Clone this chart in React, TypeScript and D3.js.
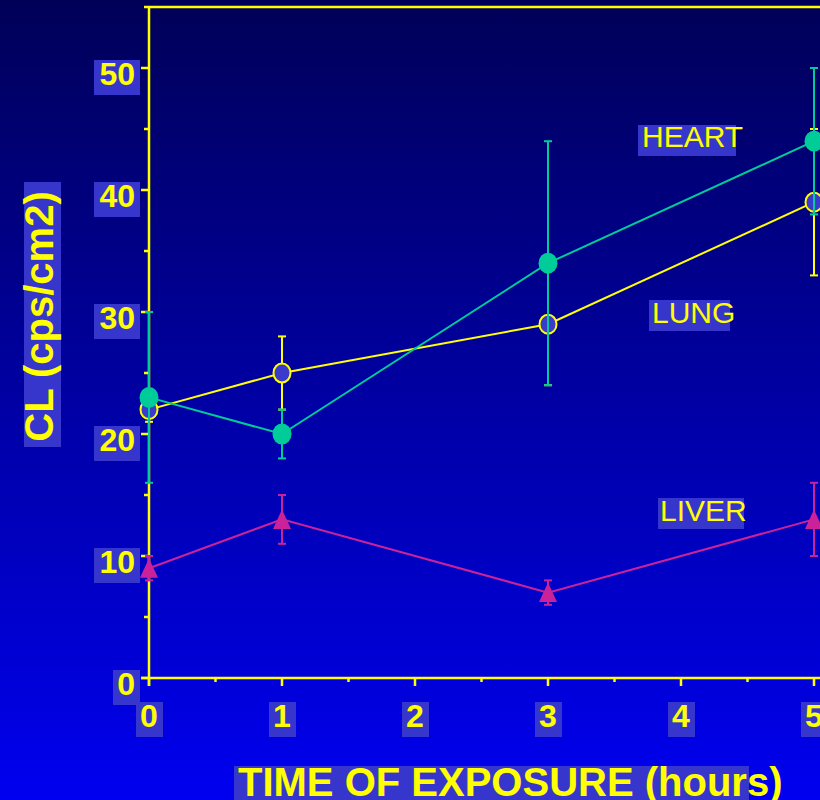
import React from "react";
import * as d3 from "d3";

const hours = [0, 1, 3, 5];
const heart = [23, 20, 34, 44];
const heartErr = [7, 2, 10, 6];
const lung = [22, 25, 29, 39];
const lungErr = [1, 3, 5, 6];
const liver = [9, 13, 7, 13];
const liverErr = [1, 2, 1, 3];
const yTicks = [0, 10, 20, 30, 40, 50];
const yMinor = [5, 15, 25, 35, 45, 55];
const xTicks = [0, 1, 2, 3, 4, 5];
const xMinor = [0.5, 1.5, 2.5, 3.5, 4.5];

const YEL = "#ffff00";
const TEAL = "#00cc99";
const MAG = "#cc2299";
const BOX = "#3636cc";
const FONT = "'Liberation Sans', Arial, sans-serif";

export default function App() {
  const W = 820, H = 800;
  const x = d3.scaleLinear().domain([0, 5]).range([149, 814]);
  const y = d3.scaleLinear().domain([0, 55]).range([678, 7]);
  const line = d3.line<number>().x((_, i) => x(hours[i])).y((d) => y(d));

  const errBars = (vals: number[], errs: number[], color: string) =>
    vals.map((v, i) => {
      const cx = x(hours[i]);
      const y1 = y(v + errs[i]);
      const y2 = y(v - errs[i]);
      return (
        <g key={i} stroke={color} strokeWidth={2}>
          <line x1={cx} x2={cx} y1={y1} y2={y2} />
          <line x1={cx - 4} x2={cx + 4} y1={y1} y2={y1} />
          <line x1={cx - 4} x2={cx + 4} y1={y2} y2={y2} />
        </g>
      );
    });

  return (
    <svg width={W} height={H} style={{ position: "absolute", left: 0, top: 0 }} fontFamily={FONT}>
      <defs>
        <linearGradient id="bg" x1="0" y1="0" x2="0" y2="1">
          <stop offset="0" stopColor="#000058" />
          <stop offset="1" stopColor="#0000f0" />
        </linearGradient>
      </defs>
      <rect x={0} y={0} width={W} height={H} fill="url(#bg)" />

      {/* axes */}
      <g stroke={YEL} strokeWidth={2.5}>
        <line x1={x(0)} x2={x(0)} y1={y(55)} y2={y(0) + 8} />
        <line x1={x(0) - 8} x2={W} y1={y(0)} y2={y(0)} />
        <line x1={x(0)} x2={W} y1={y(55)} y2={y(55)} />
        {yTicks.map((t) => (
          <line key={"yt" + t} x1={x(0) - 8} x2={x(0)} y1={y(t)} y2={y(t)} />
        ))}
        {yMinor.map((t) => (
          <line key={"ym" + t} x1={x(0) - 5} x2={x(0)} y1={y(t)} y2={y(t)} />
        ))}
        {xTicks.map((t) => (
          <line key={"xt" + t} x1={x(t)} x2={x(t)} y1={y(0)} y2={y(0) + 8} />
        ))}
        {xMinor.map((t) => (
          <line key={"xm" + t} x1={x(t)} x2={x(t)} y1={y(0)} y2={y(0) + 4} />
        ))}
      </g>

      {/* y tick labels */}
      {yTicks.map((t) => {
        const s = String(t);
        const w = 8 + 19 * s.length;
        return (
          <g key={"yl" + t}>
            <rect x={140 - w} y={y(t) - 8} width={w} height={35} fill={BOX} />
            <text x={135} y={y(t) + 17} fill={YEL} fontSize={32} fontWeight="bold" textAnchor="end">
              {s}
            </text>
          </g>
        );
      })}

      {/* x tick labels */}
      {xTicks.map((t) => (
        <g key={"xl" + t}>
          <rect x={x(t) - 13} y={702} width={27} height={35} fill={BOX} />
          <text x={x(t)} y={727} fill={YEL} fontSize={32} fontWeight="bold" textAnchor="middle">
            {t}
          </text>
        </g>
      ))}

      {/* axis titles */}
      <rect x={234} y={766} width={515} height={40} fill={BOX} />
      <text x={238} y={796} fill={YEL} fontSize={40} fontWeight="bold">
        TIME OF EXPOSURE (hours)
      </text>
      <rect x={24} y={182} width={37} height={265} fill={BOX} />
      <text transform="translate(53,316.5) rotate(-90)" fill={YEL} fontSize={40} fontWeight="bold" textAnchor="middle">
        CL (cps/cm2)
      </text>

      {/* series labels */}
      <rect x={638} y={125} width={98} height={31} fill={BOX} />
      <text x={642} y={146.5} fill={YEL} fontSize={30}>HEART</text>
      <rect x={649} y={300} width={81} height={31} fill={BOX} />
      <text x={652} y={322.5} fill={YEL} fontSize={30}>LUNG</text>
      <rect x={658} y={498} width={86} height={31} fill={BOX} />
      <text x={660} y={521} fill={YEL} fontSize={30}>LIVER</text>

      {/* LIVER */}
      <path d={line(liver) || ""} fill="none" stroke={MAG} strokeWidth={2} />
      {errBars(liver, liverErr, MAG)}
      {liver.map((v, i) => {
        const cx = x(hours[i]);
        const cy = y(v);
        return (
          <path key={"tri" + i} d={`M${cx},${cy - 10}L${cx - 9},${cy + 9.5}L${cx + 9},${cy + 9.5}Z`} fill={MAG} />
        );
      })}

      {/* LUNG */}
      <path d={line(lung) || ""} fill="none" stroke={YEL} strokeWidth={2} />
      {errBars(lung, lungErr, YEL)}
      {lung.map((v, i) => (
        <ellipse key={"lc" + i} cx={x(hours[i])} cy={y(v)} rx={8.5} ry={9.5} fill="#3a3acc" stroke={YEL} strokeWidth={2} />
      ))}

      {/* HEART */}
      <path d={line(heart) || ""} fill="none" stroke={TEAL} strokeWidth={2} />
      {errBars(heart, heartErr, TEAL)}
      {heart.map((v, i) => (
        <ellipse key={"hc" + i} cx={x(hours[i])} cy={y(v)} rx={9.5} ry={10.5} fill={TEAL} />
      ))}
    </svg>
  );
}
